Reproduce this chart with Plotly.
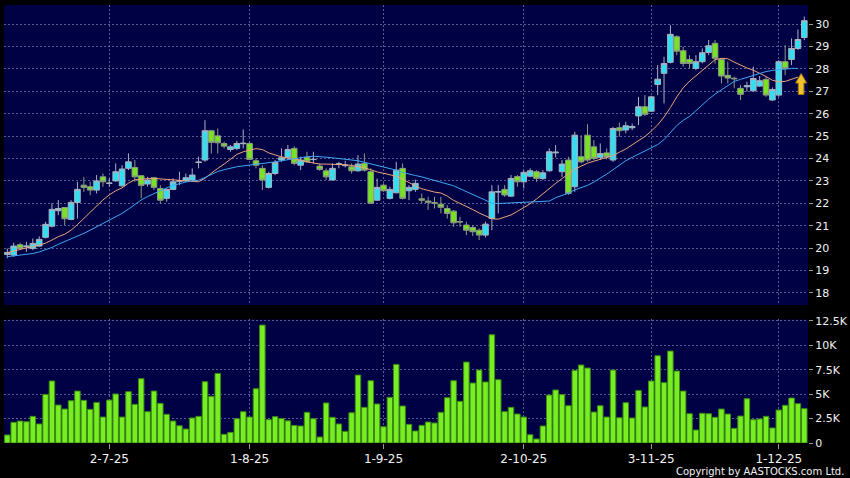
import plotly.graph_objects as go

# ---------------- data ----------------
tick_idx = [16, 38, 59, 81, 101, 121]
tick_text = ["2-7-25", "1-8-25", "1-9-25", "2-10-25", "3-11-25", "1-12-25"]

opens = [
    19.72, 19.69, 20.15, 20.06, 19.98, 20.09, 20.48, 20.98, 21.67, 21.81,
    21.28, 22.04, 22.81, 22.74, 22.59, 23.18, 22.89, 23.00, 22.78, 23.56,
    23.60, 23.23, 22.86, 23.14, 22.66, 22.22, 22.62, 22.98, 23.00, 23.04,
    23.82, 23.93, 25.24, 25.01, 24.67, 24.40, 24.45, 24.66, 24.67, 23.90,
    23.56, 22.71, 23.33, 23.93, 24.05, 24.45, 23.70, 24.05, 23.95, 23.66,
    23.45, 23.04, 23.74, 23.68, 23.63, 23.45, 23.78, 23.41, 22.14, 22.81,
    22.22, 22.47, 23.56, 22.56, 22.62, 22.20, 22.10, 22.03, 21.96, 21.77,
    21.65, 21.18, 21.03, 20.92, 20.80, 20.58, 21.32, 22.50, 22.62, 22.32,
    23.19, 22.96, 23.21, 23.41, 23.11, 23.45, 24.25, 23.41, 23.93, 22.74,
    24.08, 25.04, 24.52, 24.05, 24.25, 23.93, 25.37, 25.27, 25.37, 25.90,
    26.31, 26.11, 27.30, 27.80, 28.29, 29.43, 28.81, 28.42, 28.02, 28.32,
    28.73, 29.14, 28.42, 27.71, 27.58, 27.13, 27.20, 27.02, 27.23, 27.53,
    26.61, 26.83, 28.32, 28.42, 28.91, 29.40,
]
highs = [
    19.98, 20.24, 20.24, 20.28, 20.43, 20.53, 21.17, 22.00, 22.14, 21.84,
    22.14, 22.96, 23.18, 22.96, 23.26, 23.33, 23.11, 23.78, 23.70, 24.23,
    23.93, 23.26, 23.18, 23.18, 22.81, 22.66, 23.11, 23.41, 23.33, 23.56,
    24.08, 25.71, 25.27, 25.34, 24.75, 24.60, 24.79, 25.30, 24.75, 24.00,
    23.70, 23.41, 23.93, 24.45, 24.60, 24.55, 24.08, 24.30, 24.30, 23.78,
    23.56, 23.78, 23.85, 23.90, 23.78, 24.15, 24.23, 23.56, 23.11, 22.89,
    22.74, 23.85, 23.78, 22.81, 23.06, 22.44, 22.29, 22.29, 22.29, 21.92,
    21.70, 21.40, 21.18, 21.03, 20.88, 21.18, 22.81, 22.81, 22.81, 23.26,
    23.26, 23.48, 23.56, 23.48, 23.48, 24.45, 24.60, 23.93, 24.08, 25.19,
    25.04, 25.53, 24.82, 24.67, 24.45, 25.41, 25.60, 25.64, 25.56, 26.75,
    26.83, 26.80, 28.17, 28.54, 29.95, 29.50, 28.99, 28.61, 28.61, 28.91,
    29.29, 29.29, 28.47, 28.32, 27.65, 27.28, 27.43, 28.10, 27.68, 27.65,
    27.17, 28.39, 29.06, 29.36, 29.76, 30.33,
]
lows = [
    19.55, 19.61, 19.91, 19.84, 19.91, 20.06, 20.43, 20.92, 21.47, 21.03,
    21.25, 21.32, 22.51, 22.36, 22.44, 22.74, 22.74, 22.96, 22.74, 23.48,
    22.96, 22.22, 22.74, 22.59, 21.99, 22.07, 22.59, 22.81, 22.96, 22.96,
    23.56, 23.85, 24.22, 24.22, 24.45, 24.30, 24.37, 24.45, 23.93, 23.56,
    22.59, 22.66, 23.26, 23.85, 23.93, 23.70, 23.48, 23.81, 23.78, 23.45,
    23.04, 23.04, 23.56, 23.60, 23.33, 23.41, 23.41, 21.97, 22.11, 22.51,
    22.17, 22.44, 22.17, 22.14, 22.51, 22.00, 21.70, 21.77, 21.55, 21.32,
    20.95, 20.95, 20.58, 20.54, 20.36, 20.48, 20.80, 21.55, 22.29, 22.29,
    22.74, 22.66, 23.16, 22.96, 23.04, 23.41, 24.05, 23.18, 22.37, 22.51,
    23.78, 23.85, 23.93, 23.93, 23.96, 23.85, 24.97, 25.12, 25.27, 25.49,
    25.90, 26.08, 26.83, 26.46, 28.24, 28.61, 28.10, 28.02, 27.94, 28.24,
    28.61, 28.24, 27.35, 27.35, 27.13, 26.61, 26.98, 26.98, 27.20, 26.75,
    26.58, 26.75, 27.72, 28.17, 28.84, 29.28,
]
closes = [
    19.80, 20.09, 19.98, 20.09, 20.21, 20.39, 21.06, 21.73, 21.77, 21.31,
    22.04, 22.62, 22.71, 22.59, 23.00, 22.96, 22.90, 23.41, 23.53, 23.85,
    23.18, 22.80, 23.04, 22.71, 22.14, 22.62, 22.96, 23.00, 23.14, 23.26,
    23.84, 25.24, 24.72, 24.70, 24.55, 24.52, 24.67, 24.68, 23.96, 23.70,
    23.04, 23.33, 23.82, 24.03, 24.40, 23.78, 23.93, 23.85, 23.96, 23.51,
    23.18, 23.56, 23.76, 23.70, 23.45, 23.75, 23.48, 22.00, 22.71, 22.56,
    22.62, 23.48, 22.22, 22.71, 22.89, 22.14, 22.05, 22.00, 21.82, 21.55,
    21.13, 21.17, 20.80, 20.73, 20.58, 21.07, 22.51, 22.52, 22.37, 23.11,
    22.96, 23.38, 23.45, 23.11, 23.36, 24.30, 24.28, 23.75, 22.44, 25.04,
    23.85, 23.93, 24.00, 24.22, 24.07, 25.34, 25.24, 25.46, 25.43, 26.31,
    25.97, 26.75, 27.54, 28.24, 29.54, 28.79, 28.24, 28.24, 28.32, 28.72,
    29.03, 28.47, 27.68, 27.59, 27.56, 26.86, 27.25, 27.57, 27.47, 26.83,
    27.08, 28.32, 28.02, 28.91, 29.31, 30.15,
]
# volume in thousands
volume_k = [
    0.82, 2.12, 2.25, 2.18, 2.73, 1.95, 4.98, 6.35, 3.89, 3.48,
    4.33, 5.32, 4.37, 3.45, 4.16, 2.66, 4.40, 5.02, 2.66, 5.26,
    3.96, 6.59, 3.21, 5.32, 4.06, 2.94, 2.25, 1.77, 1.43, 2.56,
    2.73, 6.28, 4.78, 7.13, 0.89, 1.09, 2.49, 3.21, 2.66, 5.56,
    12.08, 2.39, 2.70, 2.51, 2.27, 1.79, 1.74, 3.14, 2.49, 0.61,
    4.10, 2.63, 1.95, 1.19, 3.10, 6.96, 3.65, 6.38, 4.00, 1.67,
    4.68, 8.05, 3.79, 1.91, 1.23, 1.81, 2.15, 2.05, 3.14, 4.64,
    6.38, 4.27, 8.29, 6.14, 7.47, 6.25, 11.09, 6.48, 3.21, 3.65,
    2.97, 2.66, 0.85, 0.41, 1.74, 4.91, 5.43, 4.96, 3.82, 7.44,
    7.99, 7.68, 3.17, 3.82, 2.66, 7.47, 2.59, 4.13, 2.56, 5.39,
    3.69, 6.35, 8.94, 6.18, 9.42, 7.37, 5.32, 3.00, 1.33, 3.04,
    3.00, 2.63, 3.48, 2.97, 1.50, 2.76, 4.54, 2.39, 2.46, 2.73,
    1.54, 3.38, 3.86, 4.61, 4.03, 3.52,
]
# short moving average (orange) and long moving average (blue)
ma_short = [
    19.80, 19.88, 19.95, 20.01, 20.06, 20.13, 20.22, 20.36, 20.51, 20.62,
    20.80, 21.05, 21.33, 21.60, 21.91, 22.15, 22.38, 22.56, 22.69, 22.90,
    23.05, 23.09, 23.10, 23.11, 23.09, 23.06, 23.03, 23.00, 22.98, 22.96,
    22.96, 23.12, 23.35, 23.56, 23.75, 23.98, 24.18, 24.30, 24.38, 24.44,
    24.40, 24.25, 24.16, 24.07, 24.02, 23.98, 23.93, 23.85, 23.79, 23.75,
    23.75, 23.75, 23.74, 23.72, 23.69, 23.65, 23.58, 23.50, 23.40, 23.34,
    23.27, 23.21, 23.08, 22.92, 22.77, 22.65, 22.56, 22.50, 22.46, 22.32,
    22.13, 22.00, 21.86, 21.72, 21.57, 21.44, 21.31, 21.29, 21.38, 21.48,
    21.64, 21.80, 21.98, 22.19, 22.43, 22.66, 22.89, 23.10, 23.31, 23.52,
    23.66, 23.79, 23.88, 23.96, 24.05, 24.13, 24.28, 24.42, 24.61, 24.80,
    24.98, 25.22, 25.50, 25.85, 26.27, 26.75, 27.15, 27.45, 27.69, 27.93,
    28.17, 28.41, 28.47, 28.45, 28.30, 28.16, 28.04, 27.94, 27.81, 27.66,
    27.49, 27.42, 27.44, 27.52, 27.63,
]
ma_long = [
    19.62, 19.65, 19.68, 19.72, 19.76, 19.83, 19.92, 20.03, 20.17, 20.29,
    20.40, 20.53, 20.66, 20.80, 20.95, 21.09, 21.24, 21.38, 21.55, 21.74,
    21.95, 22.15, 22.30, 22.44, 22.57, 22.69, 22.80, 22.88, 22.95, 23.00,
    23.03, 23.15, 23.30, 23.42, 23.50, 23.57, 23.63, 23.67, 23.70, 23.73,
    23.76, 23.80, 23.85, 23.90, 23.95, 24.00, 24.05, 24.08, 24.10, 24.09,
    24.06, 24.03, 24.00, 23.97, 23.94, 23.90, 23.83, 23.76, 23.69, 23.63,
    23.57, 23.48, 23.38, 23.30, 23.24, 23.18, 23.10, 23.02, 22.95, 22.87,
    22.78, 22.65, 22.52, 22.38, 22.24, 22.12, 22.01, 21.99, 22.00, 22.01,
    22.02, 22.04, 22.06, 22.07, 22.07, 22.10, 22.25, 22.35, 22.45, 22.60,
    22.70, 22.80, 22.95, 23.12, 23.30, 23.50, 23.72, 23.90, 24.05, 24.19,
    24.33, 24.47, 24.62, 24.84, 25.18, 25.47, 25.70, 25.88, 26.13, 26.40,
    26.65, 26.87, 27.07, 27.27, 27.44, 27.53, 27.62, 27.72, 27.81, 27.88,
    27.93, 27.97, 28.01, 28.02, 28.02,
]
price_ticks = list(range(18, 31))
vol_ticks = [0, 2.5, 5, 7.5, 10, 12.5]
vol_tick_text = ["0", "2.5K", "5K", "7.5K", "10K", "12.5K"]

# ---------------- styling ----------------
W, H = 850, 478
ML, MR, MT, MB = 4, 42, 5, 35
NAVY = "#000044"
GRID = "#5c5c92"
FONT = "DejaVu Sans"
TXT = "#f2f2f2"

x = list(range(len(opens)))

fig = go.Figure()
fig.add_trace(go.Bar(
    x=x, y=volume_k, xaxis="x", yaxis="y",
    marker=dict(color="#78ee22", line=dict(color="#3a8a14", width=1)),
    hoverinfo="skip",
))
fig.add_trace(go.Candlestick(
    x=x, open=opens, high=highs, low=lows, close=closes,
    xaxis="x2", yaxis="y2", whiskerwidth=0,
    increasing=dict(line=dict(color="#a6b2c2", width=1), fillcolor="#33def0"),
    decreasing=dict(line=dict(color="#8c9c80", width=1), fillcolor="#78e224"),
))
fig.add_trace(go.Scatter(
    x=x[:len(ma_short)], y=ma_short, xaxis="x2", yaxis="y2", mode="lines",
    line=dict(color="#eea478", width=1), hoverinfo="skip",
))
fig.add_trace(go.Scatter(
    x=x[:len(ma_long)], y=ma_long, xaxis="x2", yaxis="y2", mode="lines",
    line=dict(color="#3fa8f2", width=1), hoverinfo="skip",
))

axis_common = dict(
    showgrid=True, gridcolor=GRID, gridwidth=1, griddash="2px,2px",
    zeroline=False, showline=False,
)

n = len(opens)
xr = [-0.52, n - 0.42]

fig.update_layout(
    width=W, height=H,
    margin=dict(l=ML, r=MR, t=MT, b=MB, pad=0, autoexpand=False),
    paper_bgcolor="black", plot_bgcolor=NAVY,
    font=dict(family=FONT, color=TXT),
    showlegend=False, bargap=0.14, boxgap=0.12, boxgroupgap=0,
    xaxis=dict(
        domain=[0, 1], anchor="y", range=xr,
        tickmode="array", tickvals=tick_idx, ticktext=tick_text,
        ticks="outside", ticklen=5, tickcolor="#999999", tickwidth=1,
        tickfont=dict(family=FONT, size=12, color=TXT),
        rangeslider=dict(visible=False), **axis_common,
    ),
    xaxis2=dict(
        domain=[0, 1], anchor="y2", range=xr, matches="x",
        tickmode="array", tickvals=tick_idx, showticklabels=False, ticks="",
        rangeslider=dict(visible=False), **axis_common,
    ),
    yaxis=dict(
        domain=[0, 0.282], anchor="x", range=[0, 12.654], side="right",
        tickmode="array", tickvals=vol_ticks, ticktext=vol_tick_text,
        ticks="outside", ticklen=4, tickcolor="#999999", tickwidth=1,
        tickfont=dict(family=FONT, size=11, color=TXT), **axis_common,
    ),
    yaxis2=dict(
        domain=[0.315, 1], anchor="x2", range=[17.46, 30.85], side="right",
        tickmode="array", tickvals=price_ticks,
        ticks="outside", ticklen=4, tickcolor="#999999", tickwidth=1,
        tickfont=dict(family=FONT, size=11, color=TXT), **axis_common,
    ),
)

# yellow "up" arrow marker next to the last candle
fig.add_shape(
    type="path", xref="x2", yref="y2",
    xsizemode="pixel", ysizemode="pixel",
    xanchor=n - 1.5, yanchor=27.3,
    path="M 0 11 L 5.5 1.5 L 2.8 1.5 L 2.8 -10 L -2.8 -10 L -2.8 1.5 L -5.5 1.5 Z",
    fillcolor="#f2c22c", line=dict(color="#a27c12", width=1), layer="above",
)

plot_w = W - ML - MR
plot_h = H - MT - MB
fig.add_annotation(
    text="Copyright by AASTOCKS.com Ltd.", xref="paper", yref="paper",
    x=1 + (846 - (W - MR)) / plot_w, y=-(471 - (H - MB)) / plot_h,
    xanchor="right", yanchor="middle", showarrow=False,
    font=dict(family=FONT, size=10, color=TXT),
)

fig.write_html(
    "out.html",
    config={"displayModeBar": False},
    post_script="document.body.style.margin='0px';document.body.style.background='black';",
)
